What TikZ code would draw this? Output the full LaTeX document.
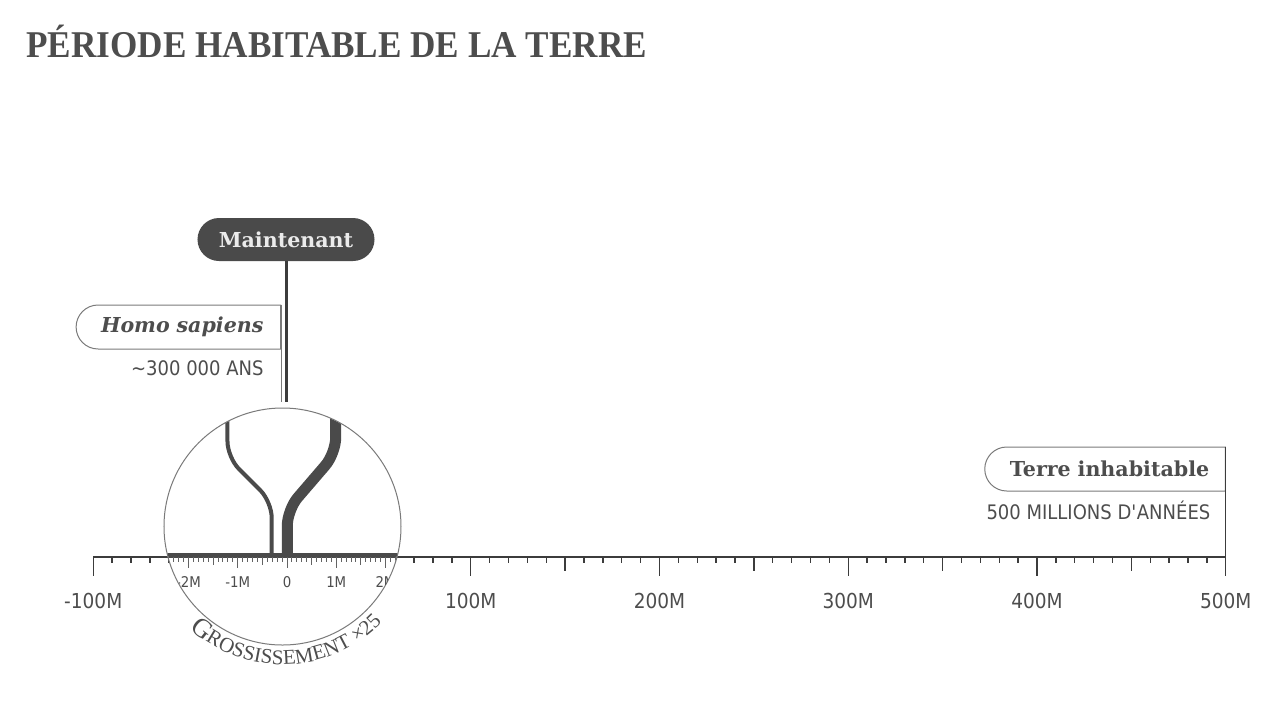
\documentclass[tikz,border=0pt]{standalone}
\usepackage{fontspec}
\setmainfont{Liberation Serif}
\newfontfamily\titlefont[FakeStretch=0.93]{Liberation Serif}
\newfontfamily\tagfont{DejaVu Serif}
\newfontfamily\axisfont[FakeStretch=0.9]{DejaVu Sans}
\usetikzlibrary{positioning, shapes.misc, decorations.text}

\definecolor{ink}{HTML}{4D4D4D}
\definecolor{rule}{HTML}{3C3C3C}
\definecolor{edge}{HTML}{7A7A7A}
\definecolor{pill}{HTML}{4A4A4A}

\newcommand{\lensbig}{\fontsize{13.5}{13.5}\selectfont}
\newcommand{\lenssmall}{\fontsize{10.5}{10.5}\selectfont}

\tikzset{
  tag/.style={rounded rectangle, rounded rectangle right arc=none, draw=edge, line width=0.5pt,
    minimum height=22pt, inner xsep=0pt, inner ysep=0pt, align=right, text=ink,
    font=\tagfont\bfseries\fontsize{10.3}{12}\selectfont},
  nowpill/.style={rectangle, rounded corners=10.75pt, fill=pill, minimum width=88.5pt,
    minimum height=21.5pt, text=white!92!black, font=\tagfont\bfseries\fontsize{10.3}{12}\selectfont},
  note/.style={inner sep=0pt, text=ink, font=\axisfont\fontsize{10}{12}\selectfont},
  year/.style={inner sep=0pt, anchor=north, text=ink, font=\axisfont\fontsize{10.3}{12}\selectfont},
  zoomyear/.style={inner sep=0pt, anchor=north, text=ink, font=\axisfont\fontsize{7.4}{8}\selectfont},
  lens/.style={circle, draw=edge, line width=0.5pt, fill=white, minimum size=118.5pt, inner sep=0pt},
  marker/.style={draw=rule, line width=1.5pt},
  branch/.style={draw=pill, rounded corners=8pt},
}

\begin{document}
\begin{tikzpicture}[x=0.5pt, y=0.5pt]
\useasboundingbox (-282,-151) rectangle (996,557);
\def\u{1.8875}

% title
\node[anchor=base west, inner sep=0pt, text=ink, font=\titlefont\bfseries\fontsize{18.9}{22}\selectfont]
  (title) at (-256,500) {PÉRIODE HABITABLE DE LA TERRE};

% time axis, 10M steps
\coordinate (start) at (-100*\u,0);
\coordinate (end) at (500*\u,0);
\draw[rule, line width=1pt] (start) -- (end);
\foreach \yr in {-100,-90,...,500}{
  \pgfmathsetmacro\len{ifthenelse(mod(\yr,100)==0,19,ifthenelse(mod(\yr,50)==0,14,6))}
  \draw[rule, line width=0.7pt] (\yr*\u,0) -- (\yr*\u,-\len);
}
\foreach \yr in {-100,100,200,300,400,500}
  \node[year] (year\yr) at (\yr*\u,-36) {\yr M};

% magnifier
\node[lens] (lens) at (0.5,30.5) {};
\begin{scope}
  \clip (lens.center) circle[radius=118];
  \draw[pill, line width=2.5pt] (-120,1.5) -- (121,1.5);
  \foreach \k in {-25,...,25}{
    \pgfmathsetmacro\len{ifthenelse(mod(\k,10)==0,11,ifthenelse(mod(\k,5)==0,8,5))}
    \draw[rule!80, line width=0.5pt] (5+4.925*\k,0) -- (5+4.925*\k,-\len);
  }
  \foreach \yr/\txt in {-2/-2M,-1/-1M,0/0,1/1M,2/2M}
    \node[zoomyear] (zoom\yr) at (5+49.25*\yr,-19) {\txt};
  % the two lines
  \draw[branch, line width=2pt] (-54.5,160) -- (-54.5,99.5) -- (-10.3,55.3) -- (-10.3,1);
  \draw[branch, line width=5.5pt] (53.7,160) -- (53.7,103.6) -- (5.3,47.3) -- (5.3,1);
\end{scope}
\path[decorate, decoration={text along path, text align=center, text color=ink,
    text={|\lensbig|G|\lenssmall|ROSSISSEMENT ×25}}]
  (lens.center) ++(224:138) arc[start angle=224, end angle=320, radius=138];

% now
\coordinate (nowend) at (4,155);
\node[nowpill] (now) at (4,317.5) {Maintenant};
\draw[marker] (now) -- (nowend);

% homo sapiens
\coordinate (homoend) at (-1,155);
\node[tag, text width=101pt, anchor=east] (homo) at (-1,230) {\itshape Homo sapiens\hspace*{8.5pt}};
\draw[edge, line width=0.5pt] (homo.north east) -- (homoend);
\node[note, below left=5.5pt and 8.5pt of homo.south east] (homoage) {\textasciitilde300 000 ANS};

% end of habitable time
\node[tag, text width=119.5pt, anchor=east] (terre) at (500*\u,88) {Terre inhabitable\hspace*{8pt}};
\draw[rule, line width=0.7pt] (terre.north east) -- (end);
\node[note, below left=4.5pt and 7.5pt of terre.south east] (terreage) {500 MILLIONS D\textquotesingle ANNÉES};
\end{tikzpicture}
\end{document}
